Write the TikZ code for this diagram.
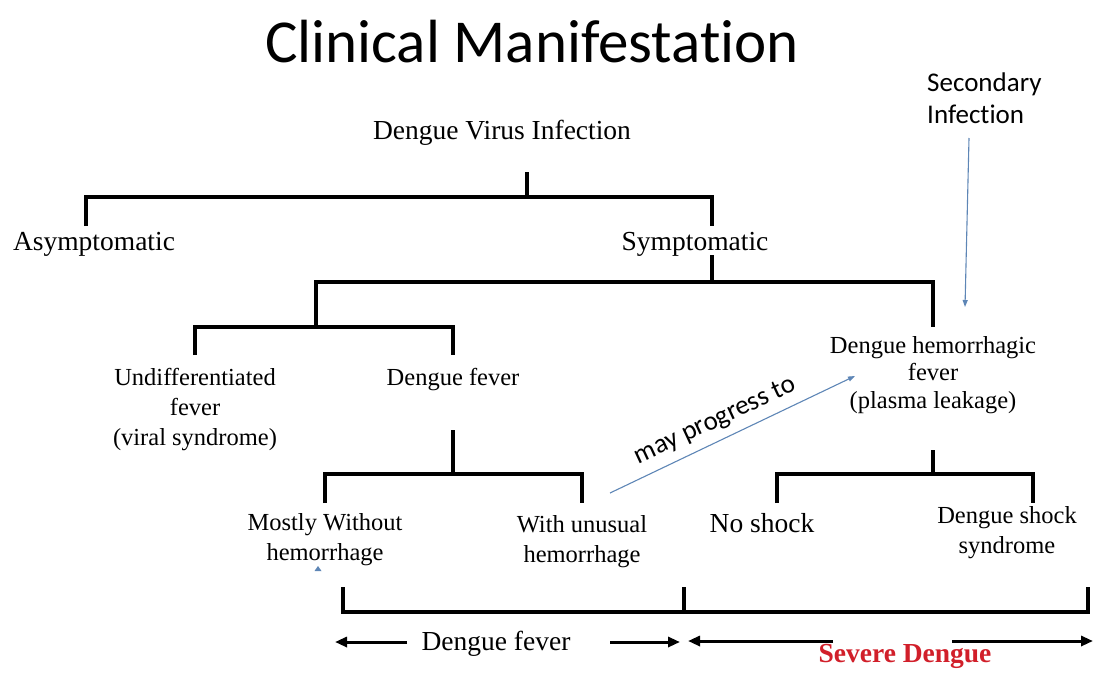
\documentclass[tikz,border=0pt]{standalone}
\usepackage{fontspec}
\setmainfont{Liberation Serif}
\newfontfamily\calibrifont[Ligatures={NoCommon}]{Carlito}
\usetikzlibrary{arrows.meta}
\definecolor{linkblue}{HTML}{5E86B6}
\definecolor{severered}{HTML}{D11F2A}
\begin{document}
\begin{tikzpicture}[x=1pt,y=-1pt,
 bracket/.style={line width=3.2pt,line join=miter,line cap=butt},
 txt/.style={inner sep=0pt,anchor=base,align=center,font=\fontsize{24.5}{30}\selectfont},
 txtbig/.style={inner sep=0pt,anchor=base,align=center,font=\fontsize{27.5}{32}\selectfont},
 sans/.style={inner sep=0pt,anchor=base,font=\calibrifont\fontsize{27}{31.5}\selectfont},
 bluearrow/.style={draw=linkblue,line width=1.1pt,-{Triangle[length=7pt,width=5pt]}},
 spanarrow/.style={line width=3pt,-{Triangle[length=12pt,width=10pt]}}
]
\useasboundingbox (0,0) rectangle (1094,673);
% texts (multi-line nodes: base anchor = baseline of the last line)
\node[inner sep=0pt,anchor=base,font=\calibrifont\fontsize{61}{70}\selectfont] (title) at (532,62) {Clinical Manifestat\kern0pt ion};
\node[txtbig] (dvi) at (502,139) {Dengue Virus Infection};
\node[txtbig] (asym) at (94,250) {Asymptomatic};
\node[txtbig] (sym) at (695,250) {Symptomatic};
\node[txt] (undiff) at (195,445) {Undifferentiated\\fever\\(viral syndrome)};
\node[txt] (df) at (453,385) {Dengue fever};
\node[txt] (mwh) at (325,560) {Mostly Without\\hemorrhage};
\node[txt] (wuh) at (582,562) {With unusual\\hemorrhage};
\node[txt,font=\fontsize{24.5}{27.5}\selectfont] (dhf) at (933,408) {Dengue hemorrhagic\\fever\\(plasma leakage)};
\node[txtbig] (noshock) at (762,532) {No shock};
\node[txt] (dss) at (1007,553) {Dengue shock\\syndrome};
\node[sans,align=left,anchor=base west] (sec) at (927,123) {Secondary\\Infect\kern0pt ion};
\node[txtbig] (dflabel) at (496,650) {Dengue fever};
\node[txtbig,font=\bfseries\fontsize{27.5}{32}\selectfont,text=severered] (sdlabel) at (905,662) {Severe Dengue};
\node[sans,rotate=25] (mpt) at (718,427) {may progress to};
% bracket points
\coordinate (a0) at (527,172); \coordinate (a1) at (527,197);
\coordinate (aL) at (86,226); \coordinate (aLt) at (86,197);
\coordinate (aR) at (712,226); \coordinate (aRt) at (712,197);
\coordinate (b0) at (712,255); \coordinate (b1) at (712,282);
\coordinate (bL) at (316,327); \coordinate (bLt) at (316,282);
\coordinate (bR) at (933,327); \coordinate (bRt) at (933,282);
\coordinate (cLt) at (195,327); \coordinate (cL) at (195,355);
\coordinate (cRt) at (453,327); \coordinate (cR) at (453,355);
\coordinate (d0) at (453,430); \coordinate (d1) at (453,474);
\coordinate (dL) at (325,503); \coordinate (dLt) at (325,474);
\coordinate (dR) at (582,503); \coordinate (dRt) at (582,474);
\coordinate (e0) at (933,450); \coordinate (e1) at (933,474);
\coordinate (eL) at (777,503); \coordinate (eLt) at (777,474);
\coordinate (eR) at (1033,503); \coordinate (eRt) at (1033,474);
\coordinate (fL) at (343,587); \coordinate (fLb) at (343,612);
\coordinate (fM) at (684,587); \coordinate (fMb) at (684,612);
\coordinate (fR) at (1088,587); \coordinate (fRb) at (1088,612);
% brackets
\draw[bracket] (a0) -- (a1);
\draw[bracket] (aL) -- (aLt) -- (aRt) -- (aR);
\draw[bracket] (b0) -- (b1);
\draw[bracket] (bL) -- (bLt) -- (bRt) -- (bR);
\draw[bracket] (cL) -- (cLt) -- (cRt) -- (cR);
\draw[bracket] (d0) -- (d1);
\draw[bracket] (dL) -- (dLt) -- (dRt) -- (dR);
\draw[bracket] (e0) -- (e1);
\draw[bracket] (eL) -- (eLt) -- (eRt) -- (eR);
\draw[bracket] (fL) -- (fLb) -- (fRb) -- (fR);
\draw[bracket] (fM) -- (fMb);
% span arrows
\coordinate (g1) at (407,642); \coordinate (g1t) at (335,642);
\coordinate (g2) at (610,642); \coordinate (g2t) at (680,642);
\coordinate (g3) at (833,641); \coordinate (g3t) at (688,641);
\coordinate (g4) at (952,641); \coordinate (g4t) at (1093,641);
\draw[spanarrow] (g1) -- (g1t);
\draw[spanarrow] (g2) -- (g2t);
\draw[spanarrow] (g3) -- (g3t);
\draw[spanarrow] (g4) -- (g4t);
% blue arrows
\coordinate (s0) at (969,138); \coordinate (s1) at (965,307);
\draw[bluearrow] (s0) -- (s1);
\coordinate (p0) at (610,493); \coordinate (p1) at (855,376);
\draw[bluearrow] (p0) -- (p1);
\fill[linkblue] (314.5,571) -- (321.5,571) -- (318,566) -- cycle;
\end{tikzpicture}
\end{document}
